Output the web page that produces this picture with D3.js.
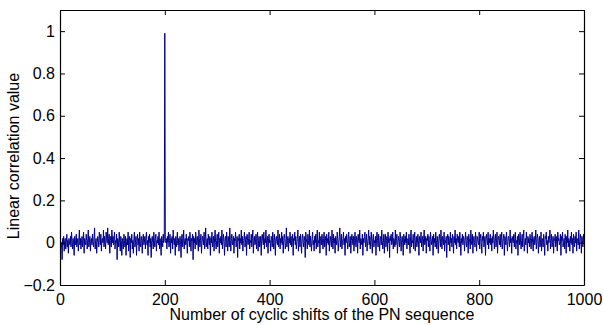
<!DOCTYPE html>
<html>
<head>
<meta charset="utf-8">
<script src="https://cdn.jsdelivr.net/npm/d3@7"></script>
<style>
  body { margin: 0; background: #fff; }
  svg text { font-family: "Liberation Sans", Arial, Helvetica, sans-serif; }
</style>
</head>
<body>
<svg id="canvas" width="604" height="325"></svg>
<script>
const svg = d3.select("#canvas");
const width = 604;
const height = 325;

// correlation value for each cyclic shift 1..1000
const corrValues = [
  0.01,-0.02,0.00,-0.08,0.02,-0.01,0.03,-0.04,0.01,0.02,-0.03,0.00,0.04,-0.02,0.01,-0.05,0.02,0.00,-0.01,0.03,
  -0.02,0.05,0.01,-0.03,0.02,0.00,-0.06,0.03,0.01,-0.01,0.04,-0.02,0.00,0.02,-0.04,0.01,0.06,-0.01,0.02,-0.03,
  0.00,0.03,-0.02,0.01,0.05,-0.05,0.02,0.00,-0.01,0.04,0.01,-0.03,0.02,0.06,-0.02,0.00,0.03,-0.04,0.01,0.02,
  -0.01,0.04,0.00,-0.02,0.03,0.07,-0.03,0.01,0.02,-0.05,0.00,0.03,0.01,-0.02,0.05,0.02,-0.01,0.04,-0.04,0.01,
  0.02,0.00,0.06,-0.02,0.03,0.01,-0.03,0.05,0.02,0.00,0.07,-0.01,0.02,0.04,-0.05,0.01,0.03,-0.02,0.06,0.00,
  0.03,-0.01,0.02,0.05,-0.03,0.01,0.00,0.04,-0.08,0.02,0.01,-0.02,0.05,0.00,-0.04,0.03,0.01,-0.06,0.02,0.00,
  -0.03,0.04,0.01,-0.02,0.03,-0.06,0.00,0.02,-0.01,0.05,-0.04,0.01,0.03,-0.07,0.02,0.00,0.04,-0.03,0.01,-0.05,
  0.02,0.05,-0.02,0.00,0.03,-0.06,0.01,0.04,-0.01,0.02,-0.04,0.05,0.00,-0.02,0.03,0.01,-0.05,0.02,0.04,-0.01,
  0.00,0.03,-0.03,0.02,0.05,-0.01,0.01,-0.06,0.03,0.00,0.04,-0.02,0.02,-0.07,0.01,0.03,0.00,-0.03,0.05,0.01,
  -0.02,0.02,0.04,-0.04,0.01,0.00,0.03,-0.01,0.05,-0.03,0.02,0.00,-0.06,0.03,0.01,-0.02,0.04,0.00,0.02,0.99,
  0.01,0.00,0.02,-0.03,0.03,0.00,0.05,-0.02,0.01,0.04,-0.05,0.02,0.00,0.03,-0.03,0.06,0.01,-0.01,0.02,-0.06,
  0.03,-0.02,0.01,0.05,-0.01,0.02,-0.04,0.00,0.03,0.01,-0.07,0.02,0.04,-0.02,0.00,0.06,-0.03,0.01,0.02,-0.01,
  0.04,0.00,-0.05,0.02,0.01,0.03,-0.02,0.05,0.00,-0.04,0.02,0.01,0.04,-0.08,0.03,0.00,0.02,-0.03,0.05,0.01,
  -0.01,0.03,0.00,-0.04,0.06,0.02,-0.02,0.01,0.04,-0.05,0.00,0.03,0.02,-0.01,0.05,-0.03,0.01,0.07,-0.02,0.00,
  0.02,-0.03,0.04,0.01,-0.01,0.03,-0.06,0.02,0.00,0.05,-0.02,0.01,0.03,-0.04,0.02,0.06,0.00,-0.03,0.01,0.04,
  -0.02,0.01,0.05,-0.05,0.02,0.00,0.03,-0.01,0.06,-0.03,0.01,0.04,0.00,-0.06,0.02,0.03,-0.02,0.05,0.01,-0.04,
  0.03,0.00,-0.02,0.07,0.01,-0.04,0.02,0.04,-0.01,0.00,0.03,-0.05,0.02,0.01,0.05,-0.02,0.00,0.03,-0.07,0.02,
  0.01,0.04,-0.03,0.02,0.00,0.06,-0.01,0.03,-0.04,0.01,0.02,0.05,-0.02,0.00,0.03,-0.06,0.04,0.01,-0.01,0.02,
  0.05,-0.03,0.01,0.00,0.04,-0.02,0.02,0.06,-0.05,0.01,0.03,-0.01,0.00,0.04,-0.03,0.02,0.05,-0.04,0.01,0.03,
  -0.02,0.00,0.03,-0.06,0.02,0.04,0.01,-0.01,0.05,-0.03,0.02,0.00,0.06,-0.02,0.01,0.03,-0.05,0.02,0.04,0.00,
  0.01,-0.04,0.03,0.02,-0.02,0.05,0.00,-0.03,0.04,0.01,-0.06,0.02,0.03,0.00,-0.01,0.06,-0.02,0.01,0.04,-0.03,
  0.02,0.00,0.05,-0.01,0.03,-0.05,0.01,0.04,0.02,-0.03,0.00,0.07,-0.02,0.01,0.03,-0.04,0.02,0.00,0.05,-0.01,
  0.03,-0.02,0.00,0.04,-0.06,0.02,0.01,0.05,-0.01,0.03,-0.03,0.00,0.02,0.06,-0.04,0.01,0.03,-0.02,0.04,0.00,
  -0.05,0.02,0.04,0.00,-0.02,0.03,0.01,-0.07,0.05,0.02,0.00,-0.03,0.04,0.01,-0.01,0.06,-0.02,0.03,0.00,-0.04,
  0.02,0.05,-0.01,0.01,-0.04,0.03,0.00,0.04,-0.03,0.02,0.06,-0.02,0.01,0.00,0.05,-0.05,0.02,0.03,-0.01,0.04,
  0.00,-0.03,0.02,0.05,-0.02,0.01,0.03,-0.06,0.04,0.00,0.02,-0.01,0.05,-0.04,0.01,0.03,0.00,-0.02,0.06,0.01,
  -0.03,0.04,0.00,0.02,-0.05,0.03,0.01,-0.01,0.05,0.02,-0.04,0.00,0.03,0.07,-0.02,0.01,0.04,-0.03,0.00,0.02,
  0.05,-0.01,0.02,-0.06,0.03,0.00,0.04,0.01,-0.03,0.02,0.05,-0.02,0.00,0.03,-0.05,0.01,0.04,0.02,-0.01,0.03,
  -0.04,0.01,0.05,0.00,-0.02,0.03,0.02,-0.05,0.04,0.01,0.00,0.06,-0.03,0.02,0.01,-0.01,0.04,-0.06,0.02,0.00,
  0.03,0.05,-0.02,0.01,0.04,-0.04,0.00,0.02,0.06,-0.01,0.03,-0.03,0.01,0.05,0.00,-0.05,0.02,0.04,-0.02,0.01,
  0.00,0.03,-0.06,0.02,0.05,0.01,-0.02,0.04,0.00,-0.04,0.03,0.02,-0.01,0.06,0.01,-0.03,0.00,0.04,-0.05,0.02,
  0.04,-0.02,0.01,0.03,-0.04,0.05,0.00,0.02,-0.07,0.03,0.01,0.04,-0.01,0.00,0.05,-0.03,0.02,0.01,-0.02,0.06,
  -0.01,0.02,0.04,-0.05,0.00,0.03,0.01,-0.02,0.05,0.02,-0.04,0.01,0.03,0.00,-0.06,0.04,0.02,-0.01,0.03,0.00,
  0.05,-0.03,0.01,0.02,-0.01,0.04,0.00,-0.05,0.03,0.06,-0.02,0.01,0.00,0.04,-0.03,0.02,0.05,-0.04,0.01,0.03,
  -0.02,0.00,0.04,0.01,-0.06,0.03,0.02,0.00,0.05,-0.02,0.01,0.03,-0.04,0.02,0.06,-0.01,0.00,0.03,-0.05,0.02,
  0.01,0.04,-0.02,0.03,0.00,-0.04,0.05,0.02,-0.01,0.01,0.03,-0.06,0.04,0.00,0.02,-0.02,0.05,0.01,-0.03,0.03,
  0.00,-0.05,0.02,0.04,0.01,-0.02,0.06,0.00,-0.03,0.03,0.02,-0.01,0.05,-0.04,0.01,0.00,0.03,-0.07,0.02,0.04,
  -0.01,0.03,0.01,-0.04,0.05,0.00,0.02,-0.02,0.04,0.01,-0.05,0.03,0.00,0.06,-0.01,0.02,-0.03,0.04,0.01,0.00,
  0.03,-0.02,0.05,0.01,-0.06,0.02,0.00,0.04,-0.01,0.03,0.02,-0.04,0.01,0.05,0.00,-0.02,0.03,0.01,-0.05,0.04,
  0.02,0.00,-0.03,0.06,0.01,-0.01,0.04,-0.05,0.02,0.03,0.00,-0.02,0.05,0.01,-0.04,0.03,0.02,0.00,-0.01,0.05,
  -0.03,0.02,0.04,0.00,-0.05,0.03,0.01,0.05,-0.02,0.00,0.03,-0.06,0.02,0.04,0.01,-0.01,0.05,-0.03,0.02,0.00,
  0.04,-0.01,0.02,-0.04,0.03,0.00,0.06,0.01,-0.03,0.02,0.04,-0.02,0.00,0.05,-0.05,0.01,0.03,0.02,-0.01,0.04,
  -0.02,0.01,0.05,-0.03,0.00,0.02,0.04,-0.06,0.03,0.01,-0.01,0.05,0.00,-0.04,0.02,0.03,0.01,-0.02,0.06,0.00,
  0.02,-0.05,0.03,0.01,0.00,0.04,-0.02,0.02,0.05,-0.03,0.01,0.00,0.03,-0.06,0.04,0.02,-0.01,0.05,0.00,-0.03,
  0.01,0.04,-0.02,0.03,0.06,-0.04,0.00,0.02,-0.01,0.05,0.01,-0.05,0.03,0.00,0.02,-0.02,0.04,0.01,-0.03,0.02,
  0.05,0.00,-0.04,0.02,0.03,-0.01,0.01,0.06,-0.03,0.00,0.04,0.02,-0.05,0.01,0.03,-0.02,0.00,0.05,-0.04,0.02,
  0.01,-0.02,0.04,0.00,-0.06,0.03,0.02,0.05,-0.01,0.01,-0.04,0.03,0.00,0.02,0.06,-0.03,0.01,0.04,-0.02,0.00,
  0.03,-0.05,0.02,0.01,0.04,-0.02,0.00,0.03,-0.04,0.05,0.01,0.02,-0.01,0.00,0.04,-0.06,0.03,0.01,0.05,-0.02,
  0.00,0.02,-0.03,0.04,0.01,-0.05,0.03,0.00,0.06,-0.02,0.02,0.01,-0.04,0.03,0.00,0.05,-0.01,0.02,-0.05,0.04,
  0.01,-0.02,0.03,0.00,0.05,-0.04,0.02,0.01,-0.01,0.06,-0.03,0.00,0.04,0.02,-0.05,0.03,0.01,-0.02,0.04,0.00
];

const xTicks = [0, 200, 400, 600, 800, 1000];
const yTicks = [-0.2, 0, 0.2, 0.4, 0.6, 0.8, 1];
const xLabel = "Number of cyclic shifts of the PN sequence";
const yLabel = "Linear correlation value";

const plot = { left: 60, top: 10, right: 584, bottom: 285 };

const x = d3.scaleLinear().domain([0, 1000]).range([plot.left, plot.right]);
const y = d3.scaleLinear().domain([-0.2, 1.1]).range([plot.bottom, plot.top]);

const fmt = d => d3.format("")(d);

// signal
const line = d3.line()
    .x((d, i) => x(i + 1))
    .y(d => y(d));

svg.append("path")
    .datum(corrValues)
    .attr("d", line)
    .attr("fill", "none")
    .attr("stroke", "#00008b")
    .attr("stroke-width", 1)
    .attr("stroke-linejoin", "miter");

// axes, MATLAB style: inward ticks on all four sides
function styleAxis(g) {
    g.selectAll("path.domain").attr("stroke", "#000").attr("stroke-width", 1.2);
    g.selectAll(".tick line").attr("stroke", "#000").attr("stroke-width", 1);
    g.selectAll(".tick text")
        .attr("fill", "#000")
        .attr("font-size", "16px")
        .attr("font-family", "Liberation Sans, Arial, sans-serif");
}

svg.append("g")
    .attr("transform", `translate(0,${plot.bottom})`)
    .call(d3.axisBottom(x).tickValues(xTicks).tickFormat(fmt)
        .tickSizeInner(-5).tickSizeOuter(0).tickPadding(9))
    .call(styleAxis);

svg.append("g")
    .attr("transform", `translate(0,${plot.top})`)
    .call(d3.axisTop(x).tickValues(xTicks).tickFormat("")
        .tickSizeInner(-5).tickSizeOuter(0))
    .call(styleAxis);

svg.append("g")
    .attr("transform", `translate(${plot.left},0)`)
    .call(d3.axisLeft(y).tickValues(yTicks).tickFormat(fmt)
        .tickSizeInner(-5).tickSizeOuter(0).tickPadding(5))
    .call(styleAxis);

svg.append("g")
    .attr("transform", `translate(${plot.right},0)`)
    .call(d3.axisRight(y).tickValues(yTicks).tickFormat("")
        .tickSizeInner(-5).tickSizeOuter(0))
    .call(styleAxis);

// labels
svg.append("text")
    .attr("x", (plot.left + plot.right) / 2)
    .attr("y", 320)
    .attr("text-anchor", "middle")
    .attr("font-size", "16px")
    .attr("fill", "#000")
    .text(xLabel);

svg.append("text")
    .attr("transform", "translate(19,156) rotate(-90)")
    .attr("text-anchor", "middle")
    .attr("font-size", "16px")
    .attr("fill", "#000")
    .text(yLabel);
</script>
</body>
</html>
